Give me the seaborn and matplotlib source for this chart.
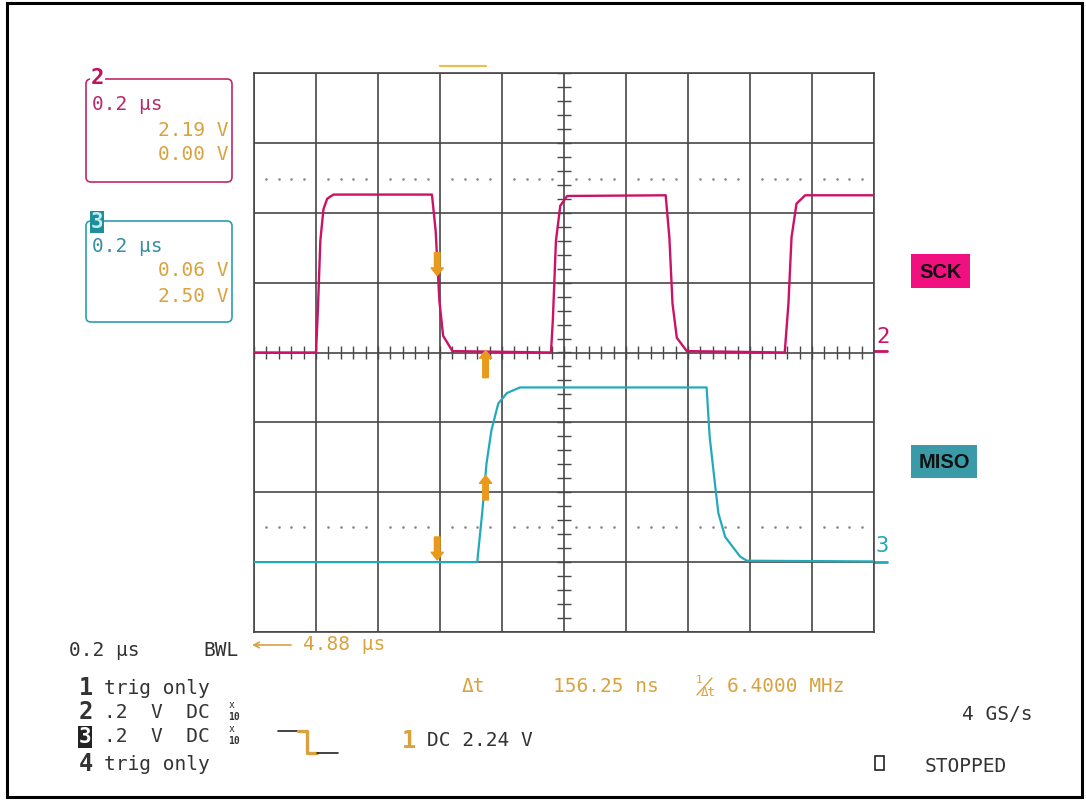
import numpy as np
import seaborn as sns
import matplotlib.pyplot as plt
from matplotlib.patches import FancyBboxPatch, Rectangle
from matplotlib.collections import LineCollection

# ------------------------------------------------------------------
# trace data: time in ns (200 ns / div), level in screen divisions
# ------------------------------------------------------------------
sck_t = [0, 200, 206, 214, 224, 236, 256, 574, 586, 598, 610, 640,
         958, 964, 974, 988, 1010, 1328, 1340, 1350, 1364, 1396,
         1712, 1724, 1734, 1750, 1778, 2000]
sck_v = [0.0, 0.0, 0.6, 1.6, 2.05, 2.2, 2.26, 2.26, 1.74, 0.74, 0.24, 0.02,
         0.0, 0.46, 1.6, 2.1, 2.24, 2.25, 1.64, 0.7, 0.21, 0.02,
         0.0, 0.7, 1.65, 2.13, 2.25, 2.25]

miso_t = [0, 720, 736, 750, 766, 788, 816, 858, 1460, 1470, 1488, 1498,
          1520, 1568, 1590, 2000]
miso_v = [-3.0, -3.0, -2.3, -1.59, -1.11, -0.73, -0.58, -0.5, -0.5, -1.21,
          -1.92, -2.3, -2.64, -2.92, -2.98, -2.99]

cursor_t = [591, 747]            # the two time cursors
cursor_levels = [2.49, -2.5]     # dotted level cursors
sck_arrows = [(1.43, 1.1), (-0.36, 0.03)]
miso_arrows = [(-2.64, -2.97), (-2.11, -1.76)]

ch2_readout = ["0.2 µs", "2.19 V", "0.00 V"]
ch3_readout = ["0.2 µs", "0.06 V", "2.50 V"]
timebase = "0.2 µs"
delay = "4.88 µs"
delta_t = "156.25 ns"
inv_delta_t = "6.4000 MHz"
trig_level = "DC 2.24 V"
sample_rate = "4 GS/s"

MAGENTA = '#cc1166'
MAG_TXT = '#b82a6e'
TEAL = '#22aabb'
TEAL_TXT = '#3590a2'
ORANGE = '#d9a23f'
ARROW = '#e99a1c'
GRID = '#474747'
DARK = '#333333'

sns.set_style('white')
plt.rcParams['font.family'] = ['DejaVu Sans Mono', 'DejaVu Sans']

fig = plt.figure(figsize=(10.86, 8.02), dpi=100)

# overlay in pixel coordinates for the screen annotations
ov = fig.add_axes([0, 0, 1, 1])
ov.set_xlim(0, 1086)
ov.set_ylim(802, 0)
ov.axis('off')

# main graticule
ax = fig.add_axes([254 / 1086, 1 - 632 / 802, 620 / 1086, 559 / 802])
ax.set_xlim(0, 2000)
ax.set_ylim(-4, 4)
ax.set_xticks(np.arange(0, 2001, 200))
ax.set_yticks(np.arange(-4, 5, 1))
ax.grid(True, color=GRID, lw=1.2)
ax.tick_params(length=0, labelbottom=False, labelleft=False)
for sp in ax.spines.values():
    sp.set_color(GRID)
    sp.set_linewidth(1.2)

# centre cross minor ticks
segs = [[(1000 - 24, v), (1000 + 24, v)] for v in np.arange(-4, 4.01, 0.2)]
segs += [[(t, -0.09), (t, 0.09)] for t in np.arange(0, 2001, 40)]
ax.add_collection(LineCollection(segs, colors=GRID, linewidths=1.0))

# dotted level cursors
dot_t = [t for t in np.arange(0, 2001, 40) if t % 200 != 0]
for lv in cursor_levels:
    ax.plot(dot_t, [lv] * len(dot_t), ls='none', marker='o', ms=1.9,
            color='#8a8a8a', mec='none')

sns.lineplot(x=sck_t, y=sck_v, ax=ax, color=MAGENTA, lw=1.7, sort=False,
             estimator=None, zorder=5)
sns.lineplot(x=miso_t, y=miso_v, ax=ax, color=TEAL, lw=1.6, sort=False,
             estimator=None, zorder=5)

# cursor arrows
for (y0, y1), (m0, m1), t in zip(sck_arrows, miso_arrows, cursor_t):
    for a, b in ((y0, y1), (m0, m1)):
        ax.annotate('', xy=(t, b), xytext=(t, a), zorder=6,
                    arrowprops=dict(arrowstyle='simple,head_length=0.7,head_width=1.1,tail_width=0.5',
                                    color=ARROW, mutation_scale=8, shrinkA=0, shrinkB=0))

# ---------------- overlay annotations ----------------
def put(x, y, s, color=DARK, size=14, ha='left', weight='normal', **kw):
    ov.text(x, y, s, color=color, fontsize=size, ha=ha, va='center',
            fontweight=weight, **kw)

# frame
ov.add_patch(Rectangle((7, 3), 1075, 794, fill=False, ec='black', lw=2.2))

# channel boxes
ov.add_patch(FancyBboxPatch((86, 79), 146, 103, boxstyle='round,pad=0,rounding_size=5',
                            fill=False, ec='#c02868', lw=1.2))
ov.add_patch(FancyBboxPatch((86, 221), 146, 101, boxstyle='round,pad=0,rounding_size=5',
                            fill=False, ec='#2aa0b0', lw=1.2))
put(91, 78, '2', color='#c01060', size=16, weight='bold',
    bbox=dict(fc='white', ec='none', pad=0.5))
put(91, 222, '3', color='#bfeef2', size=15, weight='bold',
    bbox=dict(fc='#1f8d9c', ec='none', pad=0.6))
put(92, 104, ch2_readout[0], color=MAG_TXT)
put(229, 130, ch2_readout[1], color=ORANGE, ha='right')
put(229, 155, ch2_readout[2], color=ORANGE, ha='right')
put(92, 246, ch3_readout[0], color=TEAL_TXT)
put(229, 271, ch3_readout[1], color=ORANGE, ha='right')
put(229, 296, ch3_readout[2], color=ORANGE, ha='right')

# trigger position marker
ov.plot([440, 486], [66, 66], color='#e8c050', lw=1.6)

# trace markers on the right
ov.plot([874, 887], [351, 351], color=MAGENTA, lw=2)
ov.plot([874, 887], [562, 562], color=TEAL, lw=2)
put(876, 337, '2', color=MAGENTA, size=16)
put(876, 546, '3', color=TEAL, size=16)

# signal name tags
ov.add_patch(Rectangle((911, 254), 59, 34, color='#f0107f', lw=0))
ov.add_patch(Rectangle((911, 445), 66, 33, color='#3a9aa8', lw=0))
ov.text(940.5, 272, 'SCK', color='#111111', fontsize=14.5, fontweight='bold',
        ha='center', va='center', family='Liberation Sans')
ov.text(944, 462, 'MISO', color='#111111', fontsize=14.5, fontweight='bold',
        ha='center', va='center', family='Liberation Sans')

# bottom status area
put(69, 651, timebase)
put(203, 651, 'BWL')
ov.annotate('', xy=(252, 645), xytext=(291, 645),
            arrowprops=dict(arrowstyle='->', color=ORANGE, lw=1.2, shrinkA=0, shrinkB=0))
put(303, 645, delay, color=ORANGE)

put(79, 688, '1', size=17, weight='bold')
put(104, 688, 'trig only')
put(79, 712, '2', size=17, weight='bold')
put(104, 712, '.2  V  DC')
put(79, 737, '3', color='white', size=15, weight='bold',
    bbox=dict(fc='#222222', ec='none', pad=0.4))
put(104, 736, '.2  V  DC')
put(79, 764, '4', size=17, weight='bold')
put(104, 764, 'trig only')
for yy in (712, 736):
    put(229, yy - 7, 'x', size=7)
    put(228, yy + 5, '10', size=7, weight='bold')

# trigger symbol
ov.plot([278, 298], [731, 731], color='#222222', lw=1.2)
ov.plot([298, 307, 307, 317], [731, 731, 753, 753], color=ORANGE, lw=2.4)
ov.plot([317, 338], [753, 753], color='#222222', lw=1.2)
put(402, 741, '1', color=ORANGE, size=17, weight='bold')
put(427, 740, trig_level)

put(462, 687, 'Δt', color=ORANGE)
put(553, 687, delta_t, color=ORANGE)
put(696, 680, '1', color=ORANGE, size=8)
ov.plot([697, 712], [695, 678], color=ORANGE, lw=1)
put(701, 693, 'Δt', color=ORANGE, size=9)
put(727, 687, inv_delta_t, color=ORANGE)

put(1032, 714, sample_rate, ha='right')
ov.add_patch(Rectangle((875, 756), 9, 14, fill=False, ec='#222222', lw=1.2))
put(925, 766, 'STOPPED')

fig.savefig('out.png', dpi=100, facecolor='white')
